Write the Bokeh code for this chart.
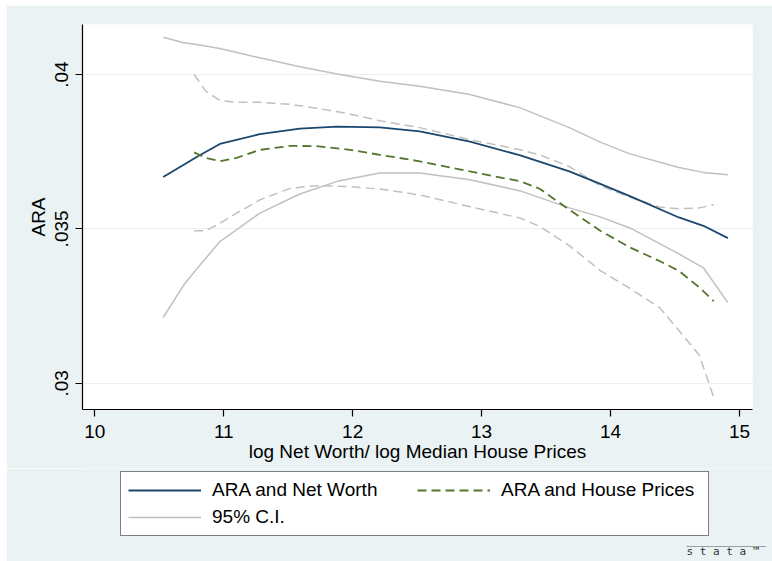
from bokeh.plotting import figure
from bokeh.layouts import column
from bokeh.models import Legend, LegendItem, FixedTicker, Range1d
from bokeh.core.properties import value
from bokeh.embed import file_html
from bokeh.resources import INLINE

# ---- data ----
x_nw = [10.53, 10.69, 10.79, 10.97, 11.28, 11.59, 11.88, 12.21, 12.52, 12.91,
        13.30, 13.68, 13.92, 14.15, 14.53, 14.72, 14.91]
ara_nw = [0.03668, 0.03708, 0.03733, 0.03775, 0.03807, 0.03825, 0.03831, 0.03829, 0.03816, 0.03783,
          0.03738, 0.03686, 0.03646, 0.03606, 0.03537, 0.03510, 0.03470]
ci_nw_hi = [0.04121, 0.04103, 0.04097, 0.04084, 0.04054, 0.04025, 0.04002, 0.03978, 0.03962, 0.03935,
            0.03892, 0.03828, 0.03781, 0.03743, 0.03699, 0.03683, 0.03675]
ci_nw_lo = [0.03213, 0.03318, 0.03370, 0.03459, 0.03551, 0.03613, 0.03654, 0.03681, 0.03681, 0.03659,
            0.03623, 0.03568, 0.03539, 0.03503, 0.03419, 0.03374, 0.03261]

x_hp = [10.77, 10.86, 10.97, 11.10, 11.28, 11.52, 11.72, 11.98, 12.21, 12.52,
        12.91, 13.30, 13.45, 13.68, 13.92, 14.15, 14.38, 14.53, 14.69, 14.80]
ara_hp = [0.03748, 0.03730, 0.03719, 0.03730, 0.03756, 0.03769, 0.03768, 0.03756, 0.03740, 0.03719,
          0.03686, 0.03654, 0.03630, 0.03562, 0.03494, 0.03440, 0.03396, 0.03364, 0.03310, 0.03266]
ci_hp_hi = [0.04000, 0.03946, 0.03916, 0.03910, 0.03910, 0.03903, 0.03891, 0.03872, 0.03850, 0.03828,
            0.03789, 0.03756, 0.03740, 0.03702, 0.03640, 0.03602, 0.03571, 0.03565, 0.03568, 0.03578]
ci_hp_lo = [0.03494, 0.03494, 0.03518, 0.03551, 0.03594, 0.03632, 0.03640, 0.03637, 0.03629, 0.03610,
            0.03572, 0.03535, 0.03508, 0.03446, 0.03365, 0.03307, 0.03245, 0.03171, 0.03090, 0.02954]

x_ticks = [10, 11, 12, 13, 14, 15]
y_ticks = [0.03, 0.035, 0.04]
y_tick_labels = [".03", ".035", ".04"]
legend_labels = ["ARA and Net Worth", "ARA and House Prices", "95% C.I."]

BG = "#EAF2F3"
NAVY = "#1A476F"
GREEN = "#55752F"
GRAY = "#C0C0C0"
FONT = "Liberation Sans"
FS = "19px"
DASH = "9 5"


def draw_lines(fig):
    r_ci = fig.line(x_nw, ci_nw_hi, line_color=GRAY, line_width=1.5)
    fig.line(x_nw, ci_nw_lo, line_color=GRAY, line_width=1.5)
    fig.line(x_hp, ci_hp_hi, line_color=GRAY, line_width=1.5, line_dash=DASH)
    fig.line(x_hp, ci_hp_lo, line_color=GRAY, line_width=1.5, line_dash=DASH)
    r_nw = fig.line(x_nw, ara_nw, line_color=NAVY, line_width=1.8)
    r_hp = fig.line(x_hp, ara_hp, line_color=GREEN, line_width=1.8, line_dash=DASH)
    return r_nw, r_hp, r_ci


# ---- main chart ----
p = figure(frame_width=670, frame_height=385,
           min_border_left=76, min_border_right=20, min_border_top=19, min_border_bottom=59,
           x_range=Range1d(9.9046, 15.1008), y_range=Range1d(0.02915, 0.04162),
           output_backend="svg", toolbar_location=None)
p.margin = (5, 0, 0, 6)
p.background_fill_color = "white"
p.border_fill_color = BG
p.outline_line_color = None
draw_lines(p)

p.xaxis.ticker = FixedTicker(ticks=x_ticks)
p.yaxis.ticker = FixedTicker(ticks=y_ticks)
p.yaxis.major_label_overrides = {t: l for t, l in zip(y_ticks, y_tick_labels)}
p.yaxis.major_label_orientation = "vertical"
for ax in (p.xaxis[0], p.yaxis[0]):
    ax.axis_line_color = "black"
    ax.axis_line_width = 1.2
    ax.major_tick_line_color = "black"
    ax.major_tick_line_width = 1.2
    ax.major_tick_out = 7
    ax.major_tick_in = 0
    ax.minor_tick_line_color = None
    ax.major_label_text_font = FONT
    ax.major_label_text_font_size = FS
    ax.major_label_text_color = "black"
    ax.axis_label_text_font = FONT
    ax.axis_label_text_font_size = FS
    ax.axis_label_text_font_style = "normal"
    ax.axis_label_text_color = "black"
p.xaxis.axis_label = "log Net Worth/ log Median House Prices"
p.yaxis.axis_label = "ARA"
p.xaxis.major_label_standoff = 8
p.xaxis.axis_label_standoff = 0
p.yaxis.major_label_standoff = 7
p.yaxis.axis_label_standoff = 4

p.xgrid.grid_line_color = None
p.ygrid.grid_line_color = BG
p.ygrid.grid_line_width = 1.2

# ---- legend strip (same series, drawn out of view; only the legend shows) ----
q = figure(frame_width=766, frame_height=93,
           min_border_left=0, min_border_right=0, min_border_top=0, min_border_bottom=0,
           x_range=Range1d(0, 1), y_range=Range1d(0, 1),
           x_axis_location=None, y_axis_location=None,
           output_backend="svg", toolbar_location=None)
q.margin = (0, 0, 0, 6)
q.background_fill_color = BG
q.border_fill_color = BG
q.outline_line_color = None
q.grid.visible = False
q_nw, q_hp, q_ci = draw_lines(q)

legend = Legend(items=[LegendItem(label=legend_labels[0], renderers=[q_nw]),
                       LegendItem(label=legend_labels[1], renderers=[q_hp]),
                       LegendItem(label=legend_labels[2], renderers=[q_ci])],
                orientation="horizontal", ncols=2,
                location=(114, 25))
legend.label_text_font = FONT
legend.label_text_font_size = FS
legend.label_text_color = "black"
legend.border_line_color = "black"
legend.border_line_width = 1
legend.background_fill_color = "white"
legend.background_fill_alpha = 1
legend.glyph_width = 73
legend.glyph_height = 20
legend.label_height = 20
legend.label_width = 200
legend.label_standoff = 11
legend.spacing = 5
legend.padding = 7
legend.margin = 0
q.add_layout(legend, "center")

# Stata logo, drawn as text glyphs in the strip's own 0..1 coordinates
q.text(x=[0.7885, 0.7885], y=[0.226, 0.108], text=["____________", "s t a t a ™"],
       text_font=value("DejaVu Sans Mono"), text_font_size=value("11px"),
       text_color="#333333", text_align="left", text_baseline="alphabetic")

layout = column(p, q, spacing=0)
open("out.html", "w").write(file_html(layout, INLINE))
